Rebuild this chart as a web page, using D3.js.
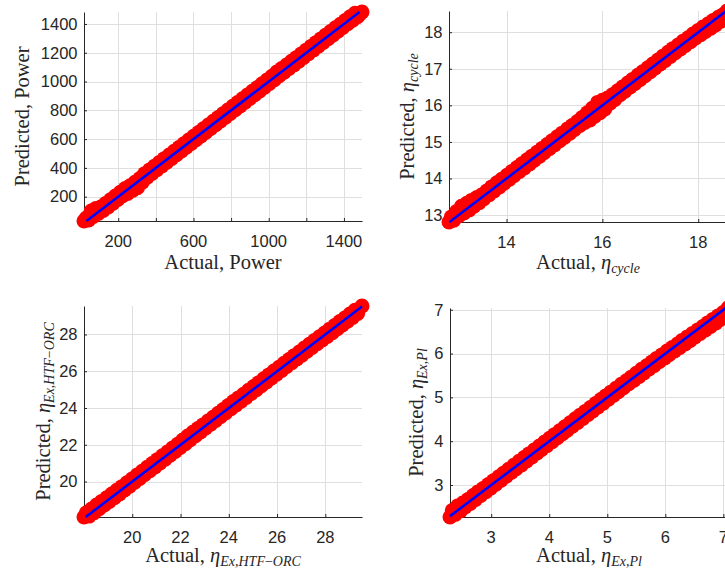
<!DOCTYPE html>
<html>
<head>
<meta charset="utf-8">
<script src="https://cdn.jsdelivr.net/npm/d3@7"></script>
<style>
  html, body { margin: 0; padding: 0; background: #fff; }
  svg { display: block; }
</style>
</head>
<body>
<script>
// Each point is [actual, predicted]

// ---- Net power ----
const powerPoints = [[18,31],[30,52],[43,38],[56,100],[68,62],[81,118],[94,84],[107,128],[120,104],[133,152],
  [146,128],[159,178],[172,154],[185,204],[198,180],[211,230],[224,206],[237,256],[250,222],[263,276],
  [276,244],[289,300],[302,262],[315,326],[328,300],[341,360],[354,336],[367,386],[380,362],[393,412],
  [406,388],[419,438],[432,414],[445,464],[458,440],[471,490],[484,466],[497,516],[510,492],[523,542],
  [536,518],[549,568],[562,544],[575,594],[588,570],[601,620],[614,596],[627,646],[640,622],[653,672],
  [666,648],[679,698],[692,674],[705,724],[718,700],[731,750],[744,726],[757,776],[770,752],[783,802],
  [796,778],[809,828],[822,804],[835,854],[848,830],[861,880],[874,856],[887,906],[900,882],[913,932],
  [926,908],[939,958],[952,934],[965,984],[978,960],[991,1010],[1004,986],[1017,1036],[1030,1012],[1043,1066],
  [1056,1040],[1069,1090],[1082,1064],[1095,1114],[1108,1090],[1121,1140],[1134,1116],[1147,1166],[1160,1142],[1173,1192],
  [1186,1168],[1199,1218],[1212,1194],[1225,1244],[1238,1220],[1251,1270],[1264,1246],[1277,1296],[1290,1272],[1303,1322],
  [1316,1298],[1329,1348],[1342,1324],[1355,1374],[1368,1350],[1381,1398],[1394,1376],[1407,1424],[1420,1402],[1433,1450],
  [1446,1426],[1459,1474],[1472,1450],[1484,1470],[1496,1483]];
const powerXTicks = [200, 400, 600, 800, 1000, 1200, 1400];
const powerXTickLabels = ["200", "", "600", "", "1000", "", "1400"];
const powerYTicks = [200, 400, 600, 800, 1000, 1200, 1400];
const powerYTickLabels = ["200", "400", "600", "800", "1000", "1200", "1400"];

// ---- Cycle efficiency ----
const cyclePoints = [[12.80,12.81],[12.85,12.95],[12.90,12.86],[12.96,13.10],[13.01,12.98],[13.06,13.24],[13.11,13.06],
  [13.17,13.32],[13.22,13.14],[13.27,13.40],[13.32,13.24],[13.38,13.48],[13.43,13.34],[13.48,13.55],[13.53,13.45],
  [13.59,13.66],[13.64,13.56],[13.69,13.77],[13.74,13.66],[13.80,13.88],[13.85,13.77],[13.90,13.98],[13.95,13.87],
  [14.01,14.09],[14.06,13.98],[14.11,14.19],[14.16,14.08],[14.22,14.30],[14.27,14.19],[14.32,14.40],[14.37,14.29],
  [14.43,14.51],[14.48,14.40],[14.53,14.61],[14.58,14.50],[14.64,14.72],[14.69,14.61],[14.74,14.82],[14.79,14.71],
  [14.85,14.93],[14.90,14.82],[14.95,15.03],[15.00,14.92],[15.06,15.14],[15.11,15.03],[15.16,15.24],[15.21,15.13],
  [15.27,15.35],[15.32,15.24],[15.37,15.45],[15.42,15.34],[15.48,15.56],[15.53,15.45],[15.58,15.67],[15.63,15.53],
  [15.69,15.80],[15.74,15.60],[15.79,15.92],[15.84,15.70],[15.90,16.08],[15.95,15.80],[16.00,16.14],[16.05,15.90],
  [16.11,16.20],[16.16,16.06],[16.21,16.29],[16.26,16.16],[16.32,16.40],[16.37,16.29],[16.42,16.50],[16.47,16.39],
  [16.53,16.61],[16.58,16.50],[16.63,16.71],[16.68,16.60],[16.74,16.82],[16.79,16.71],[16.84,16.92],[16.89,16.81],
  [16.95,17.03],[17.00,16.92],[17.05,17.13],[17.10,17.02],[17.16,17.24],[17.21,17.13],[17.26,17.34],[17.31,17.23],
  [17.37,17.45],[17.42,17.34],[17.47,17.55],[17.52,17.44],[17.58,17.65],[17.63,17.54],[17.68,17.75],[17.73,17.64],
  [17.79,17.85],[17.84,17.74],[17.89,17.95],[17.94,17.84],[18.00,18.05],[18.05,17.93],[18.10,18.14],[18.15,18.02],
  [18.21,18.23],[18.26,18.11],[18.31,18.32],[18.36,18.20],[18.42,18.41],[18.47,18.30],[18.52,18.48],[18.56,18.40],
  [18.60,18.58]];
const cycleXTicks = [14, 16, 18];
const cycleXTickLabels = ["14", "16", "18"];
const cycleYTicks = [13, 14, 15, 16, 17, 18];
const cycleYTickLabels = ["13", "14", "15", "16", "17", "18"];

// ---- Exergy efficiency, HTF-ORC ----
const htfPoints = [[18.00,18.07],[18.10,18.30],[18.21,18.12],[18.31,18.50],[18.42,18.30],[18.52,18.72],[18.63,18.52],
  [18.73,18.92],[18.84,18.72],[18.94,19.12],[19.05,18.92],[19.15,19.32],[19.26,19.12],[19.36,19.52],[19.47,19.33],
  [19.57,19.72],[19.68,19.54],[19.78,19.93],[19.89,19.75],[19.99,20.14],[20.10,19.96],[20.20,20.35],[20.31,20.17],
  [20.41,20.56],[20.52,20.38],[20.62,20.77],[20.73,20.59],[20.83,20.98],[20.94,20.80],[21.04,21.19],[21.15,21.01],
  [21.25,21.40],[21.36,21.22],[21.46,21.61],[21.57,21.43],[21.67,21.82],[21.78,21.64],[21.88,22.03],[21.99,21.85],
  [22.09,22.26],[22.20,22.06],[22.30,22.48],[22.41,22.28],[22.51,22.68],[22.62,22.49],[22.72,22.88],[22.83,22.70],
  [22.93,23.08],[23.04,22.91],[23.14,23.29],[23.25,23.12],[23.35,23.50],[23.46,23.33],[23.56,23.71],[23.67,23.54],
  [23.77,23.92],[23.88,23.75],[23.98,24.14],[24.09,23.96],[24.19,24.35],[24.30,24.17],[24.40,24.55],[24.51,24.37],
  [24.61,24.75],[24.72,24.58],[24.82,24.96],[24.93,24.79],[25.03,25.17],[25.14,25.00],[25.24,25.38],[25.35,25.21],
  [25.45,25.59],[25.56,25.42],[25.66,25.80],[25.77,25.63],[25.87,26.01],[25.98,25.84],[26.08,26.22],[26.19,26.05],
  [26.29,26.43],[26.40,26.26],[26.50,26.64],[26.61,26.47],[26.71,26.85],[26.82,26.67],[26.92,27.05],[27.03,26.88],
  [27.13,27.26],[27.24,27.09],[27.34,27.47],[27.45,27.29],[27.55,27.67],[27.66,27.50],[27.76,27.88],[27.87,27.70],
  [27.97,28.08],[28.08,27.90],[28.18,28.29],[28.29,28.10],[28.39,28.49],[28.50,28.31],[28.60,28.70],[28.71,28.52],
  [28.81,28.90],[28.92,28.72],[29.02,29.11],[29.13,28.93],[29.23,29.32],[29.34,29.14],[29.52,29.55]];
const htfXTicks = [20, 22, 24, 26, 28];
const htfXTickLabels = ["20", "22", "24", "26", "28"];
const htfYTicks = [20, 22, 24, 26, 28];
const htfYTickLabels = ["20", "22", "24", "26", "28"];

// ---- Exergy efficiency, plant ----
const plantPoints = [[2.29,2.27],[2.33,2.42],[2.38,2.33],[2.42,2.52],[2.47,2.41],[2.51,2.59],[2.55,2.50],[2.60,2.67],
  [2.64,2.58],[2.69,2.76],[2.73,2.67],[2.77,2.84],[2.82,2.76],[2.86,2.92],[2.91,2.85],[2.95,3.01],[2.99,2.93],
  [3.04,3.10],[3.08,3.02],[3.13,3.19],[3.17,3.11],[3.21,3.27],[3.26,3.20],[3.30,3.36],[3.35,3.29],[3.39,3.45],
  [3.43,3.37],[3.48,3.54],[3.52,3.46],[3.57,3.63],[3.61,3.55],[3.65,3.71],[3.70,3.64],[3.74,3.80],[3.79,3.73],
  [3.83,3.89],[3.87,3.81],[3.92,3.98],[3.96,3.90],[4.01,4.07],[4.05,3.99],[4.09,4.15],[4.14,4.08],[4.18,4.24],
  [4.23,4.17],[4.27,4.33],[4.31,4.25],[4.36,4.42],[4.40,4.34],[4.45,4.51],[4.49,4.43],[4.53,4.59],[4.58,4.52],
  [4.62,4.68],[4.67,4.61],[4.71,4.77],[4.75,4.69],[4.80,4.86],[4.84,4.78],[4.89,4.95],[4.93,4.87],[4.97,5.03],
  [5.02,4.96],[5.06,5.12],[5.11,5.05],[5.15,5.21],[5.19,5.13],[5.24,5.30],[5.28,5.22],[5.33,5.38],[5.37,5.31],
  [5.41,5.46],[5.46,5.39],[5.50,5.55],[5.55,5.48],[5.59,5.64],[5.63,5.56],[5.68,5.72],[5.72,5.65],[5.77,5.81],
  [5.81,5.73],[5.85,5.89],[5.90,5.82],[5.94,5.97],[5.99,5.90],[6.03,6.06],[6.07,5.98],[6.12,6.14],[6.16,6.06],
  [6.21,6.22],[6.25,6.14],[6.29,6.30],[6.34,6.22],[6.38,6.38],[6.43,6.30],[6.47,6.46],[6.51,6.38],[6.56,6.54],
  [6.60,6.46],[6.65,6.62],[6.69,6.54],[6.73,6.70],[6.78,6.62],[6.82,6.78],[6.87,6.70],[6.91,6.86],[6.95,6.78],
  [7.00,6.94],[7.04,6.86],[7.08,7.04]];
const plantXTicks = [3, 4, 5, 6, 7];
const plantXTickLabels = ["3", "4", "5", "6", "7"];
const plantYTicks = [3, 4, 5, 6, 7];
const plantYTickLabels = ["3", "4", "5", "6", "7"];

// Axis titles: pieces of [text, kind]; kind is "rm", "it" (math italic), "sub" (italic subscript) or "subrm"
const powerXTitle = [["Actual, Power", "rm"]];
const powerYTitle = [["Predicted, Power", "rm"]];
const cycleXTitle = [["Actual, ", "rm"], ["η", "it"], ["cycle", "sub"]];
const cycleYTitle = [["Predicted, ", "rm"], ["η", "it"], ["cycle", "sub"]];
const htfXTitle = [["Actual, ", "rm"], ["η", "it"], ["Ex,HTF", "sub"], ["−", "subrm"], ["ORC", "sub"]];
const htfYTitle = [["Predicted, ", "rm"], ["η", "it"], ["Ex,HTF", "sub"], ["−", "subrm"], ["ORC", "sub"]];
const plantXTitle = [["Actual, ", "rm"], ["η", "it"], ["Ex,Pl", "sub"]];
const plantYTitle = [["Predicted, ", "rm"], ["η", "it"], ["Ex,Pl", "sub"]];

const W = 725, H = 569;
const svg = d3.select("body").append("svg").attr("width", W).attr("height", H);

const panels = [
  { points: powerPoints,
    xTicks: powerXTicks, xTickLabels: powerXTickLabels, yTicks: powerYTicks, yTickLabels: powerYTickLabels,
    xTitle: powerXTitle, yTitle: powerYTitle,
    box: { left: 84, top: 12, width: 278, height: 209 }, yTitleX: 28.5, xTitleY: 268.5 },
  { points: cyclePoints,
    xTicks: cycleXTicks, xTickLabels: cycleXTickLabels, yTicks: cycleYTicks, yTickLabels: cycleYTickLabels,
    xTitle: cycleXTitle, yTitle: cycleYTitle,
    box: { left: 449, top: 11, width: 278, height: 211 }, yTitleX: 413.5, xTitleY: 268.5 },
  { points: htfPoints,
    xTicks: htfXTicks, xTickLabels: htfXTickLabels, yTicks: htfYTicks, yTickLabels: htfYTickLabels,
    xTitle: htfXTitle, yTitle: htfYTitle,
    box: { left: 84, top: 306, width: 278, height: 211 }, yTitleX: 49.5, xTitleY: 561.5 },
  { points: plantPoints,
    xTicks: plantXTicks, xTickLabels: plantXTickLabels, yTicks: plantYTicks, yTickLabels: plantYTickLabels,
    xTitle: plantXTitle, yTitle: plantYTitle,
    box: { left: 450, top: 308, width: 278, height: 209 }, yTitleX: 423, xTitleY: 562 }
];

const AX = "#262626";
const GRID = "#dfdfdf";
const TICK_FONT = "'Liberation Sans', Arial, Helvetica, sans-serif";
const TITLE_FONT = "'Liberation Serif', 'Times New Roman', serif";

function writeTitle(textSel, pieces) {
  pieces.forEach(([str, kind]) => {
    const t = textSel.append("tspan").text(str);
    if (kind === "it") {
      t.attr("font-style", "italic");
    } else if (kind === "sub" || kind === "subrm") {
      t.attr("font-size", 14).attr("baseline-shift", "-4");
      if (kind === "sub") t.attr("font-style", "italic");
    }
  });
}

panels.forEach(p => {
  const b = p.box;
  const x = d3.scaleLinear().domain(d3.extent(p.points, d => d[0])).range([b.left, b.left + b.width]);
  const y = d3.scaleLinear().domain(d3.extent(p.points, d => d[1])).range([b.top + b.height, b.top]);
  const g = svg.append("g");

  // grid
  g.append("g").selectAll("line").data(p.xTicks).join("line")
    .attr("x1", d => Math.round(x(d)) + 0.5).attr("x2", d => Math.round(x(d)) + 0.5)
    .attr("y1", b.top).attr("y2", b.top + b.height)
    .attr("stroke", GRID).attr("stroke-width", 1);
  g.append("g").selectAll("line").data(p.yTicks).join("line")
    .attr("y1", d => Math.round(y(d)) + 0.5).attr("y2", d => Math.round(y(d)) + 0.5)
    .attr("x1", b.left).attr("x2", b.left + b.width)
    .attr("stroke", GRID).attr("stroke-width", 1);

  // axes (ticks pointing inward, labels written separately)
  const xAxis = d3.axisBottom(x).tickValues(p.xTicks).tickSizeInner(-3).tickSizeOuter(0).tickFormat("");
  const yAxis = d3.axisLeft(y).tickValues(p.yTicks).tickSizeInner(-3).tickSizeOuter(0).tickFormat("");
  const gx = g.append("g").attr("transform", `translate(0,${b.top + b.height})`).call(xAxis);
  const gy = g.append("g").attr("transform", `translate(${b.left},0)`).call(yAxis);
  [gx, gy].forEach(a => {
    a.selectAll("path, line").attr("stroke", AX).attr("stroke-width", 1);
    a.selectAll("text").remove();
  });

  // tick labels
  g.append("g").selectAll("text").data(p.xTicks.map((v, i) => [v, p.xTickLabels[i]])).join("text")
    .attr("x", d => x(d[0])).attr("y", b.top + b.height + 25.5)
    .attr("text-anchor", "middle").attr("font-family", TICK_FONT).attr("font-size", 16.5)
    .attr("fill", AX).text(d => d[1]);
  g.append("g").selectAll("text").data(p.yTicks.map((v, i) => [v, p.yTickLabels[i]])).join("text")
    .attr("x", b.left - 6.5).attr("y", d => y(d[0]) + 5.8)
    .attr("text-anchor", "end").attr("font-family", TICK_FONT).attr("font-size", 16.5)
    .attr("fill", AX).text(d => d[1]);

  // scatter of predicted vs actual
  g.append("g").selectAll("circle").data(p.points).join("circle")
    .attr("cx", d => x(d[0])).attr("cy", d => y(d[1])).attr("r", 7.5)
    .attr("fill", "#ff0000");

  // identity line
  const lo = Math.max(x.domain()[0], y.domain()[0]);
  const hi = Math.min(x.domain()[1], y.domain()[1]);
  g.append("line")
    .attr("x1", x(lo)).attr("y1", y(lo)).attr("x2", x(hi)).attr("y2", y(hi))
    .attr("stroke", "#0000ff").attr("stroke-width", 2.6);

  // axis titles
  const xt = g.append("text")
    .attr("x", b.left + b.width / 2).attr("y", p.xTitleY)
    .attr("text-anchor", "middle").attr("font-family", TITLE_FONT).attr("font-size", 20.5).attr("fill", AX);
  writeTitle(xt, p.xTitle);
  const yt = g.append("text")
    .attr("transform", `translate(${p.yTitleX},${b.top + b.height / 2}) rotate(-90)`)
    .attr("text-anchor", "middle").attr("font-family", TITLE_FONT).attr("font-size", 20.5).attr("fill", AX);
  writeTitle(yt, p.yTitle);
});
</script>
</body>
</html>
